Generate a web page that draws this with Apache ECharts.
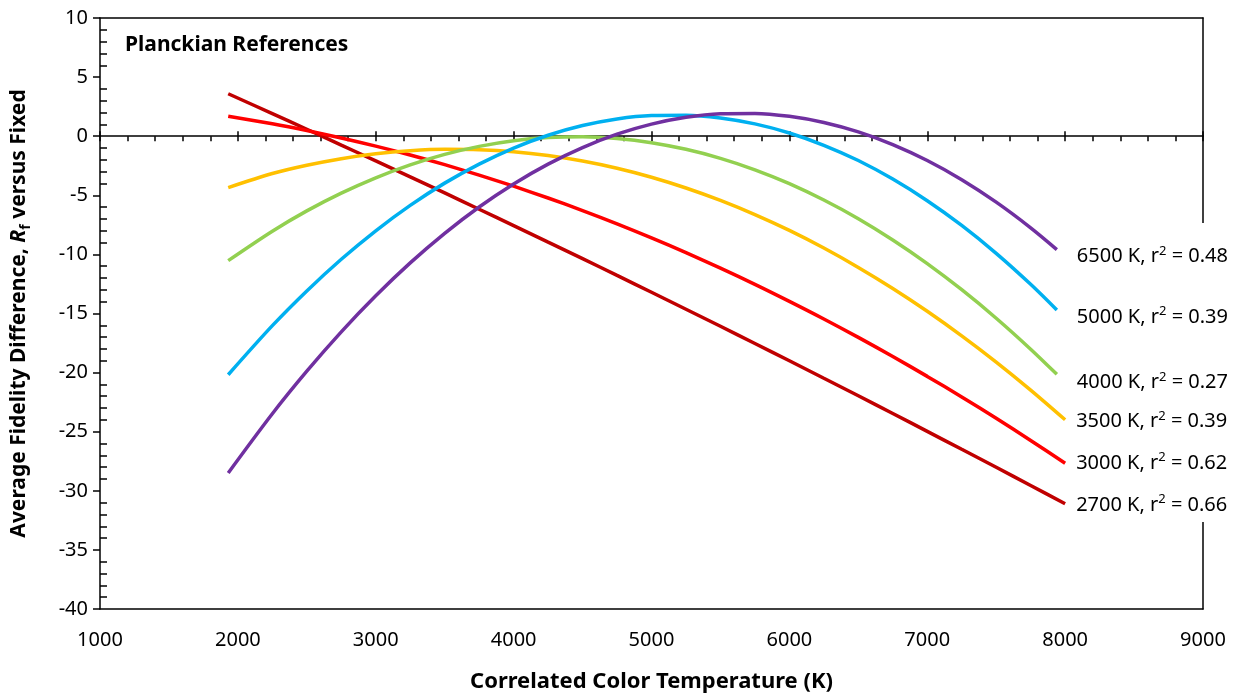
<!DOCTYPE html>
<html>
<head>
<meta charset="utf-8">
<script src="https://cdn.jsdelivr.net/npm/echarts@6/dist/echarts.min.js"></script>
<style>
html,body{margin:0;padding:0;background:#fff;}
#chart{width:1242px;height:698px;}
</style>
</head>
<body>
<div id="chart"></div>
<script>
// Correlated colour temperature samples (K)
const cctShort = [1930, 2250, 2500, 2750, 3000, 3250, 3500, 3750, 4000, 4250, 4500, 4750, 5000, 5250, 5500, 5750, 6000, 6250, 6500, 6750, 7000, 7250, 7500, 7750, 7940];
const cctLong  = [1930, 2250, 2500, 2750, 3000, 3250, 3500, 3750, 4000, 4250, 4500, 4750, 5000, 5250, 5500, 5750, 6000, 6250, 6500, 6750, 7000, 7250, 7500, 7750, 8000];

// Average fidelity difference values
const r2700 = [3.59, 1.91, 0.59, -0.75, -2.09, -3.44, -4.80, -6.18, -7.56, -8.96, -10.36, -11.78, -13.20, -14.64, -16.08, -17.54, -19.00, -20.48, -21.96, -23.46, -24.97, -26.49, -28.01, -29.55, -31.10];
const r3000 = [1.69, 1.05, 0.48, -0.15, -0.84, -1.59, -2.41, -3.29, -4.23, -5.23, -6.29, -7.41, -8.60, -9.85, -11.16, -12.53, -13.97, -15.46, -17.02, -18.64, -20.32, -22.06, -23.87, -25.74, -27.67];
const r3500 = [-4.35, -3.16, -2.46, -1.90, -1.49, -1.23, -1.11, -1.14, -1.31, -1.63, -2.10, -2.71, -3.47, -4.38, -5.43, -6.63, -7.97, -9.46, -11.10, -12.88, -14.81, -16.89, -19.11, -21.48, -23.99];
const r4000 = [-10.53, -8.04, -6.32, -4.82, -3.52, -2.43, -1.54, -0.86, -0.38, -0.12, -0.05, -0.20, -0.55, -1.11, -1.87, -2.84, -4.01, -5.40, -6.98, -8.78, -10.78, -12.99, -15.40, -18.02, -20.15];
const r5000 = [-20.18, -16.03, -13.09, -10.41, -8.00, -5.85, -3.97, -2.36, -1.00, 0.08, 0.90, 1.46, 1.75, 1.78, 1.54, 1.04, 0.27, -0.77, -2.06, -3.63, -5.46, -7.55, -9.91, -12.53, -14.70];
const r6500 = [-28.49, -23.48, -19.88, -16.55, -13.50, -10.72, -8.22, -5.99, -4.04, -2.36, -0.96, 0.17, 1.02, 1.60, 1.90, 1.93, 1.68, 1.16, 0.36, -0.71, -2.06, -3.68, -5.58, -7.75, -9.59];

const seriesNames = ['2700 K', '3000 K', '3500 K', '4000 K', '5000 K', '6500 K'];
const rSquared = ['0.66', '0.62', '0.39', '0.27', '0.39', '0.48'];

const xTicks = { min: 1000, max: 9000, interval: 1000 };
const yTicks = { min: -40, max: 10, interval: 5 };

const seriesData = [
  { name: seriesNames[0], x: cctLong,  y: r2700, r2: rSquared[0] },
  { name: seriesNames[1], x: cctLong,  y: r3000, r2: rSquared[1] },
  { name: seriesNames[2], x: cctLong,  y: r3500, r2: rSquared[2] },
  { name: seriesNames[3], x: cctShort, y: r4000, r2: rSquared[3] },
  { name: seriesNames[4], x: cctShort, y: r5000, r2: rSquared[4] },
  { name: seriesNames[5], x: cctShort, y: r6500, r2: rSquared[5] }
];

const colors = ['#C00000', '#FF0000', '#FFC000', '#92D050', '#00B0F0', '#7030A0'];
const labelOffsets = [[11, 1], [11, 0], [11, 2], [20, 8], [20, 7], [20, 7]];

const FONT = 'Noto Sans';
const chart = echarts.init(document.getElementById('chart'));

const blankAxis = {
  axisLabel: { show: false }, axisTick: { show: false }, splitLine: { show: false }
};

const option = {
  animation: false,
  backgroundColor: '#fff',
  title: {
    text: 'Planckian References',
    left: 120, top: 30,
    textStyle: { fontFamily: FONT, fontSize: 21, fontWeight: 'bold', color: '#000' }
  },
  grid: { left: 100, right: 39, top: 18, bottom: 89, containLabel: false },
  graphic: [
    // white box behind the end labels that hides the right frame line there
    { type: 'rect', left: 1194, top: 223, z: 1, shape: { width: 18, height: 299 }, style: { fill: '#fff' } }
  ],
  xAxis: [
    {
      type: 'value', position: 'bottom', min: xTicks.min, max: xTicks.max, interval: xTicks.interval,
      axisLine: { show: true, onZero: false, lineStyle: { color: '#000', width: 1.5 } },
      axisTick: { show: false }, splitLine: { show: false },
      axisLabel: { fontFamily: FONT, fontSize: 20, color: '#000', margin: 21, formatter: v => String(v) },
      name: 'Correlated Color Temperature (K)', nameLocation: 'middle', nameGap: 62,
      nameTextStyle: { fontFamily: FONT, fontSize: 22, fontWeight: 'bold', color: '#000' }
    },
    Object.assign({
      type: 'value', min: xTicks.min, max: xTicks.max, interval: xTicks.interval,
      axisLine: { show: true, onZero: true, lineStyle: { color: '#000', width: 1.5 } }
    }, blankAxis, {
      axisTick: { show: true, inside: true, length: 5, lineStyle: { color: '#000', width: 1.5 } },
      minorTick: { show: true, splitNumber: 5, length: 5, lineStyle: { color: '#000', width: 1.5 } }
    }),
    Object.assign({
      type: 'value', min: xTicks.min, max: xTicks.max, interval: xTicks.interval,
      axisLine: { show: false, onZero: true }
    }, blankAxis, {
      axisTick: { show: true, inside: false, length: 5, lineStyle: { color: '#000', width: 1.5 } }
    }),
    Object.assign({
      type: 'value', position: 'top', min: xTicks.min, max: xTicks.max, interval: xTicks.interval,
      axisLine: { show: true, onZero: false, lineStyle: { color: '#000', width: 1.5 } }
    }, blankAxis)
  ],
  yAxis: [
    {
      type: 'value', position: 'left', min: yTicks.min, max: yTicks.max, interval: yTicks.interval,
      axisLine: { show: true, onZero: false, lineStyle: { color: '#000', width: 1.5 } },
      axisTick: { show: true, inside: false, length: 7, lineStyle: { color: '#000', width: 1.5 } },
      splitLine: { show: false },
      axisLabel: { fontFamily: FONT, fontSize: 20, color: '#000', margin: 12 },
      name: '{b|Average Fidelity Difference, }{i|R}{s|f}{b| versus Fixed}',
      nameLocation: 'middle', nameGap: 67,
      nameTextStyle: {
        fontFamily: FONT, fontSize: 21, fontWeight: 'bold', color: '#000',
        rich: {
          b: { fontFamily: FONT, fontSize: 21, fontWeight: 'bold', color: '#000', lineHeight: 27 },
          i: { fontFamily: FONT, fontSize: 21, fontWeight: 'bold', fontStyle: 'italic', color: '#000', lineHeight: 27 },
          s: { fontFamily: FONT, fontSize: 14, fontWeight: 'bold', color: '#000', verticalAlign: 'bottom', lineHeight: 25 }
        }
      }
    },
    Object.assign({
      type: 'value', position: 'left', min: yTicks.min, max: yTicks.max, interval: yTicks.interval,
      axisLine: { show: false, onZero: false }
    }, blankAxis, {
      axisTick: { show: false, inside: true, length: 7 },
      minorTick: { show: true, splitNumber: 5, length: 7, lineStyle: { color: '#000', width: 1.5 } }
    }),
    Object.assign({
      type: 'value', position: 'right', min: yTicks.min, max: yTicks.max, interval: yTicks.interval,
      axisLine: { show: true, onZero: false, lineStyle: { color: '#000', width: 1.5 } }
    }, blankAxis)
  ],
  series: seriesData.map((s, i) => ({
    name: s.name,
    type: 'line',
    xAxisIndex: 0, yAxisIndex: 0,
    data: s.x.map((x, j) => [x, s.y[j]]),
    smooth: 0.3,
    showSymbol: false,
    symbol: 'none',
    lineStyle: { color: colors[i], width: 3.5 },
    itemStyle: { color: colors[i] },
    z: 2 + i,
    endLabel: {
      show: true,
      distance: 0,
      offset: labelOffsets[i],
      formatter: () => '{a|' + s.name + ', r}{s|2}{a| = ' + s.r2 + '}',
      rich: {
        a: { fontFamily: FONT, fontSize: 20, color: '#000', lineHeight: 24 },
        s: { fontFamily: FONT, fontSize: 13, color: '#000', verticalAlign: 'top', lineHeight: 24 }
      }
    }
  }))
};

chart.setOption(option);
</script>
</body>
</html>
